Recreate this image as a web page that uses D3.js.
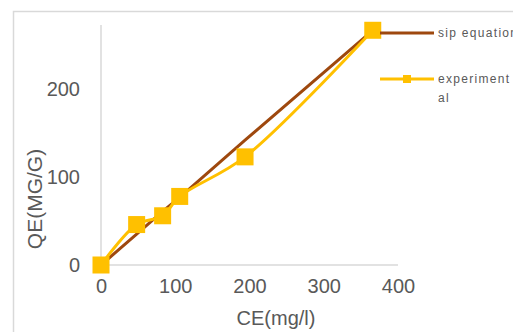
<!DOCTYPE html>
<html>
<head>
<meta charset="utf-8">
<script src="https://cdn.jsdelivr.net/npm/d3@7"></script>
<style>
  body { margin: 0; background: #fff; }
  svg { display: block; font-family: "Liberation Sans", Arial, sans-serif; }
</style>
</head>
<body>
<svg id="chart"></svg>
<script>
// values
const ceValues = [0, 48, 83, 106, 194, 366];
const qeExperimental = [0, 46, 56, 78, 123, 267];
const qeSip = [0, 35, 61, 77, 142, 267];
const xTicks = [0, 100, 200, 300, 400];
const yTicks = [0, 100, 200];
const seriesNames = ['sip equation', 'experimental'];

const w = 513, h = 332;
const margin = { left: 101, right: 115, top: 25, bottom: 67 };

const xScale = d3.scaleLinear()
  .domain([0, 400])
  .range([margin.left, w - margin.right]);

const yScale = d3.scaleLinear()
  .domain([0, 273])
  .range([h - margin.bottom, margin.top]);

const chart = d3.select('#chart')
  .attr('width', w)
  .attr('height', h);

// chart frame (runs off the right and bottom edge)
chart.append('rect')
  .attr('x', 13.5).attr('y', 11.5)
  .attr('width', 520).attr('height', 340)
  .style('fill', 'none')
  .style('stroke', '#d9d9d9')
  .style('stroke-width', 1.5);

// y axis line
chart.append('line')
  .attr('x1', xScale(0)).attr('x2', xScale(0))
  .attr('y1', margin.top).attr('y2', yScale(0))
  .style('stroke', '#d9d9d9').style('stroke-width', 1.5);

// x axis line
chart.append('line')
  .attr('x1', xScale(0)).attr('x2', xScale(400))
  .attr('y1', yScale(0)).attr('y2', yScale(0))
  .style('stroke', '#d9d9d9').style('stroke-width', 1.5);

const xAxis = chart.append('g')
  .attr('transform', `translate(0, ${yScale(0)})`)
  .call(d3.axisBottom(xScale).tickValues(xTicks).tickSize(0).tickPadding(14));
xAxis.select('.domain').remove();
xAxis.selectAll('text')
  .attr('font-size', '20px')
  .attr('font-family', '"Liberation Sans", Arial, sans-serif')
  .style('fill', '#595959');

const yAxis = chart.append('g')
  .attr('transform', `translate(${xScale(0)}, 0)`)
  .call(d3.axisLeft(yScale).tickValues(yTicks).tickSize(0).tickPadding(21));
yAxis.select('.domain').remove();
yAxis.selectAll('text')
  .attr('font-size', '20px')
  .attr('font-family', '"Liberation Sans", Arial, sans-serif')
  .style('fill', '#595959');

// axis titles
chart.append('text')
  .attr('x', 276).attr('y', 325)
  .attr('text-anchor', 'middle')
  .attr('font-size', '20px')
  .style('fill', '#595959')
  .text('CE(mg/l)');

chart.append('text')
  .attr('transform', 'translate(42, 199) rotate(-90)')
  .attr('text-anchor', 'middle')
  .attr('font-size', '21px')
  .style('fill', '#595959')
  .text('QE(MG/G)');

const sipData = ceValues.map((d, i) => ({ ce: d, qe: qeSip[i] }));
const expData = ceValues.map((d, i) => ({ ce: d, qe: qeExperimental[i] }));

const straight = d3.line()
  .x(d => xScale(d.ce))
  .y(d => yScale(d.qe));

const smooth = d3.line()
  .curve(d3.curveCatmullRom.alpha(0.5))
  .x(d => xScale(d.ce))
  .y(d => yScale(d.qe));

chart.append('path')
  .datum(sipData)
  .attr('d', straight)
  .style('fill', 'none')
  .style('stroke', '#9e480e')
  .style('stroke-width', 3);

chart.append('path')
  .datum(expData)
  .attr('d', smooth)
  .style('fill', 'none')
  .style('stroke', '#ffc000')
  .style('stroke-width', 3);

const ms = 17;
chart.selectAll('.marker')
  .data(expData)
  .enter().append('rect')
  .attr('class', 'marker')
  .attr('x', d => xScale(d.ce) - ms / 2)
  .attr('y', d => yScale(d.qe) - ms / 2)
  .attr('width', ms).attr('height', ms)
  .style('fill', '#ffc000');

// legend
const legend = chart.append('g');
legend.append('line')
  .attr('x1', 380).attr('x2', 434).attr('y1', 33).attr('y2', 33)
  .style('stroke', '#9e480e').style('stroke-width', 3);
legend.append('text')
  .attr('x', 438).attr('y', 37)
  .attr('font-size', '12px')
  .attr('letter-spacing', '1.3px')
  .style('fill', '#595959')
  .text(seriesNames[0]);

legend.append('line')
  .attr('x1', 380).attr('x2', 434).attr('y1', 79).attr('y2', 79)
  .style('stroke', '#ffc000').style('stroke-width', 3);
legend.append('rect')
  .attr('x', 403).attr('y', 75).attr('width', 8).attr('height', 8)
  .style('fill', '#ffc000');
legend.append('text')
  .attr('x', 438).attr('y', 83)
  .attr('font-size', '12px')
  .attr('letter-spacing', '1.3px')
  .style('fill', '#595959')
  .text('experiment');
legend.append('text')
  .attr('x', 438).attr('y', 102)
  .attr('font-size', '12px')
  .attr('letter-spacing', '1.3px')
  .style('fill', '#595959')
  .text('al');
</script>
</body>
</html>
